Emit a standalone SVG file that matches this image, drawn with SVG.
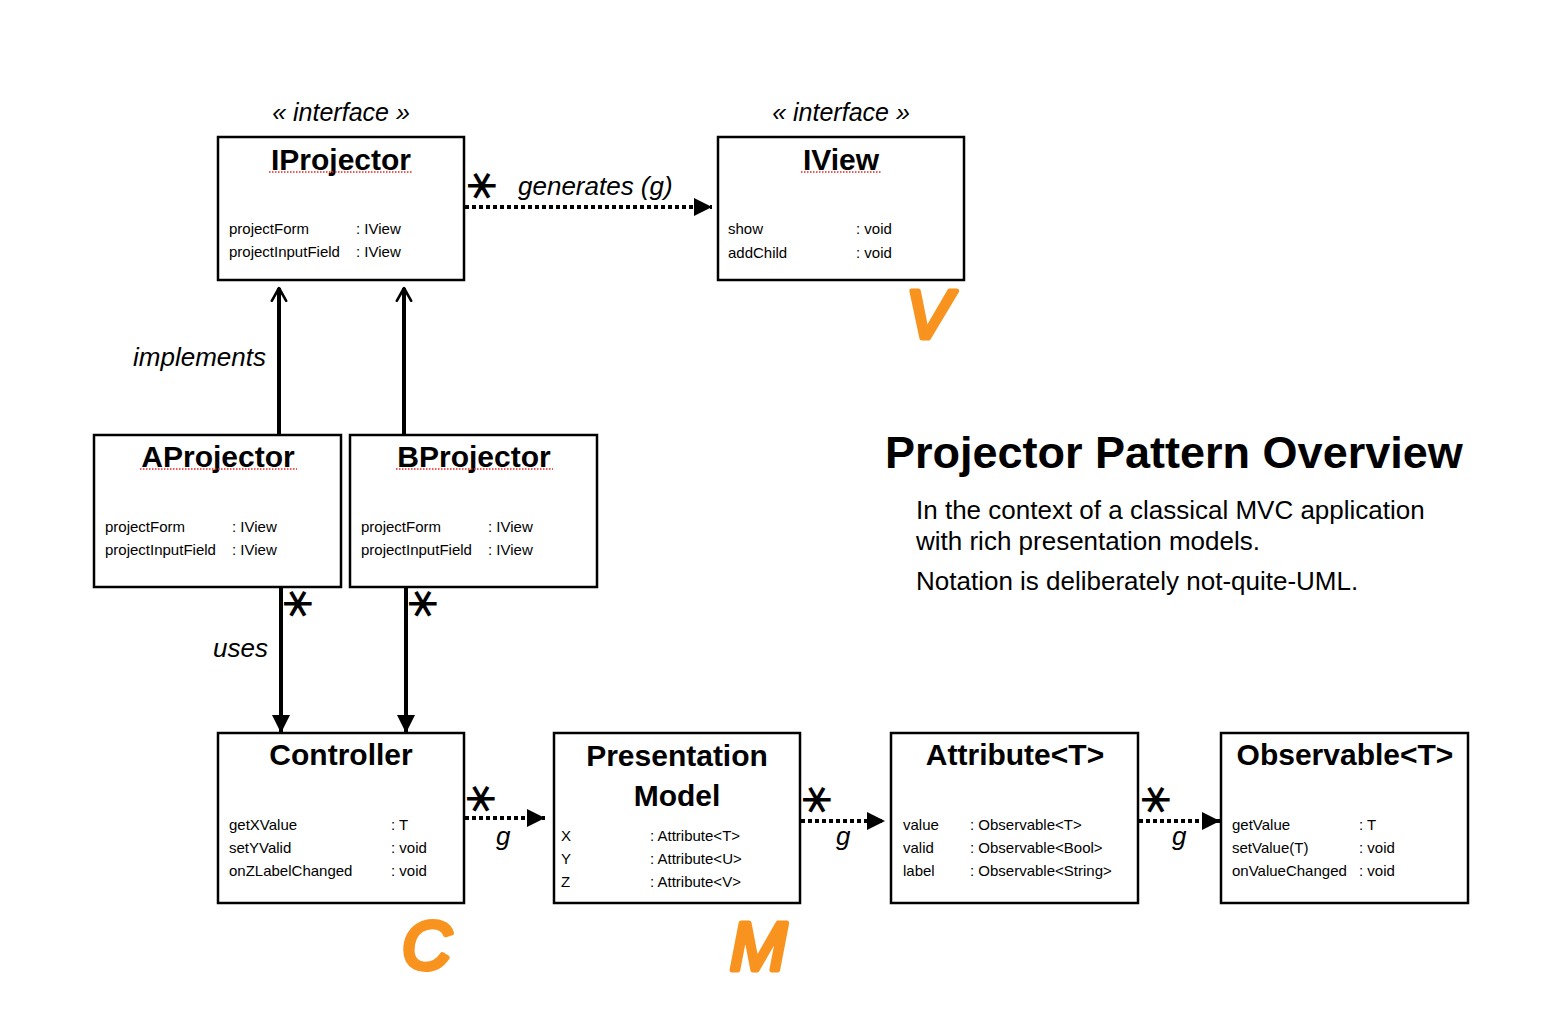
<svg xmlns="http://www.w3.org/2000/svg" width="1549" height="1014" viewBox="0 0 1549 1014">
<style>
text{font-family:"Liberation Sans",Arial,sans-serif;fill:#000}
.box{fill:#fff;stroke:#000;stroke-width:2.5}
.title{font-size:30px;font-weight:bold;text-anchor:middle}
.mem{font-size:15px}
.it{font-style:italic;font-size:26px}
.stereo{font-style:italic;font-size:25px;text-anchor:middle}
.spell{stroke:#e22;stroke-width:1.5;stroke-dasharray:1.5 1.5;fill:none}
.solid{stroke:#000;stroke-width:4;fill:none}
.dot{stroke:#000;stroke-width:4;stroke-dasharray:4 3;fill:none}
.star{font-family:"DejaVu Sans",sans-serif;font-size:44px;text-anchor:middle}
.mvc{font-size:68px;font-style:italic;fill:#F7931E;stroke:#F7931E;stroke-width:5;stroke-linejoin:round;stroke-linecap:round}
.head{font-size:45px;font-weight:bold}
.sub{font-size:26px}
</style>
<defs>
<marker id="tri" viewBox="0 0 10 10" refX="10" refY="5" markerWidth="4.5" markerHeight="4.5" orient="auto" markerUnits="strokeWidth">
<path d="M0,0 L10,5 L0,10 z" fill="#000"/>
</marker>
<marker id="open" viewBox="0 0 10 10" refX="9" refY="5" markerWidth="4" markerHeight="5" orient="auto" markerUnits="strokeWidth">
<path d="M1,0.5 L9,5 L1,9.5" fill="none" stroke="#000" stroke-width="1.6" stroke-linecap="round" stroke-linejoin="round"/>
</marker>
</defs>
<rect width="1549" height="1014" fill="#fff"/>

<g id="connectors">
<line class="dot" x1="465" y1="207" x2="712" y2="207" marker-end="url(#tri)"/>
<text class="star" x="0" y="14" transform="translate(482,186) rotate(90)">∗</text>
<text class="it" x="518" y="195">generates (g)</text>

<line class="solid" x1="279" y1="435" x2="279" y2="288" marker-end="url(#open)"/>
<line class="solid" x1="404" y1="435" x2="404" y2="288" marker-end="url(#open)"/>
<text class="it" x="133" y="366">implements</text>

<line class="solid" x1="281" y1="588" x2="281" y2="733" marker-end="url(#tri)"/>
<line class="solid" x1="406" y1="588" x2="406" y2="733" marker-end="url(#tri)"/>
<text class="star" x="0" y="14" transform="translate(298,604) rotate(90)">∗</text>
<text class="star" x="0" y="14" transform="translate(423,604) rotate(90)">∗</text>
<text class="it" x="213" y="657">uses</text>

<line class="dot" x1="465" y1="818" x2="545" y2="818" marker-end="url(#tri)"/>
<text class="star" x="0" y="14" transform="translate(481,799) rotate(90)">∗</text>
<text class="it" x="496" y="845">g</text>

<line class="dot" x1="801" y1="821" x2="885" y2="821" marker-end="url(#tri)"/>
<text class="star" x="0" y="14" transform="translate(817,800) rotate(90)">∗</text>
<text class="it" x="836" y="845">g</text>

<line class="dot" x1="1139" y1="821" x2="1220" y2="821" marker-end="url(#tri)"/>
<text class="star" x="0" y="14" transform="translate(1156,800) rotate(90)">∗</text>
<text class="it" x="1172" y="845">g</text>
</g>

<g id="IProjector">
<text class="stereo" x="341" y="121">« interface »</text>
<rect class="box" x="218" y="137" width="246" height="143"/>
<text class="title" x="341" y="170">IProjector</text>
<line class="spell" x1="269" y1="172" x2="413" y2="172"/>
<text class="mem" x="229" y="234">projectForm</text><text class="mem" x="356" y="234">: IView</text>
<text class="mem" x="229" y="257">projectInputField</text><text class="mem" x="356" y="257">: IView</text>
</g>

<g id="IView">
<text class="stereo" x="841" y="121">« interface »</text>
<rect class="box" x="718" y="137" width="246" height="143"/>
<text class="title" x="841" y="170">IView</text>
<line class="spell" x1="801" y1="172" x2="881" y2="172"/>
<text class="mem" x="728" y="234">show</text><text class="mem" x="856" y="234">: void</text>
<text class="mem" x="728" y="258">addChild</text><text class="mem" x="856" y="258">: void</text>
<text class="mvc" x="906" y="338">V</text>
</g>

<g id="AProjector">
<rect class="box" x="94" y="435" width="247" height="152"/>
<text class="title" x="218" y="467">AProjector</text>
<line class="spell" x1="140" y1="469" x2="297" y2="469"/>
<text class="mem" x="105" y="532">projectForm</text><text class="mem" x="232" y="532">: IView</text>
<text class="mem" x="105" y="555">projectInputField</text><text class="mem" x="232" y="555">: IView</text>
</g>

<g id="BProjector">
<rect class="box" x="350" y="435" width="247" height="152"/>
<text class="title" x="474" y="467">BProjector</text>
<line class="spell" x1="396" y1="469" x2="553" y2="469"/>
<text class="mem" x="361" y="532">projectForm</text><text class="mem" x="488" y="532">: IView</text>
<text class="mem" x="361" y="555">projectInputField</text><text class="mem" x="488" y="555">: IView</text>
</g>

<g id="Controller">
<rect class="box" x="218" y="733" width="246" height="170"/>
<text class="title" x="341" y="765">Controller</text>
<text class="mem" x="229" y="830">getXValue</text><text class="mem" x="391" y="830">: T</text>
<text class="mem" x="229" y="853">setYValid</text><text class="mem" x="391" y="853">: void</text>
<text class="mem" x="229" y="876">onZLabelChanged</text><text class="mem" x="391" y="876">: void</text>
<text class="mvc" x="402" y="969">C</text>
</g>

<g id="PresentationModel">
<rect class="box" x="554" y="733" width="246" height="170"/>
<text class="title" x="677" y="766">Presentation</text>
<text class="title" x="677" y="806">Model</text>
<text class="mem" x="561" y="841">X</text><text class="mem" x="650" y="841">: Attribute&lt;T&gt;</text>
<text class="mem" x="561" y="864">Y</text><text class="mem" x="650" y="864">: Attribute&lt;U&gt;</text>
<text class="mem" x="561" y="887">Z</text><text class="mem" x="650" y="887">: Attribute&lt;V&gt;</text>
<text class="mvc" x="730" y="970">M</text>
</g>

<g id="Attribute">
<rect class="box" x="891" y="733" width="247" height="170"/>
<text class="title" x="1015" y="765">Attribute&lt;T&gt;</text>
<text class="mem" x="903" y="830">value</text><text class="mem" x="970" y="830">: Observable&lt;T&gt;</text>
<text class="mem" x="903" y="853">valid</text><text class="mem" x="970" y="853">: Observable&lt;Bool&gt;</text>
<text class="mem" x="903" y="876">label</text><text class="mem" x="970" y="876">: Observable&lt;String&gt;</text>
</g>

<g id="Observable">
<rect class="box" x="1221" y="733" width="247" height="170"/>
<text class="title" x="1345" y="765">Observable&lt;T&gt;</text>
<text class="mem" x="1232" y="830">getValue</text><text class="mem" x="1359" y="830">: T</text>
<text class="mem" x="1232" y="853">setValue(T)</text><text class="mem" x="1359" y="853">: void</text>
<text class="mem" x="1232" y="876">onValueChanged</text><text class="mem" x="1359" y="876">: void</text>
</g>

<g id="overview">
<text class="head" x="885" y="468">Projector Pattern Overview</text>
<text class="sub" x="916" y="519">In the context of a classical MVC application</text>
<text class="sub" x="916" y="550">with rich presentation models.</text>
<text class="sub" x="916" y="590">Notation is deliberately not-quite-UML.</text>
</g>
</svg>
